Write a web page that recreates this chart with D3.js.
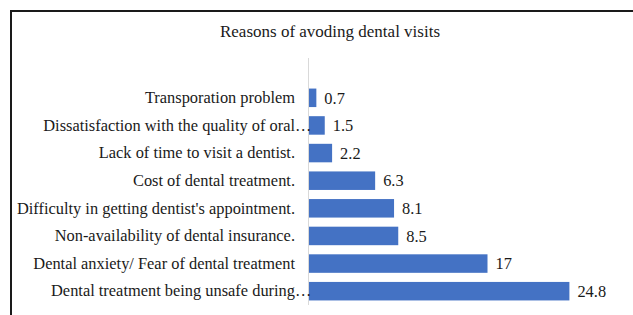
<!DOCTYPE html>
<html>
<head>
<meta charset="utf-8">
<script src="https://cdn.jsdelivr.net/npm/d3@7"></script>
<style>
  body { margin: 0; background: #fff; }
</style>
</head>
<body>
<script>
'use strict';

// categories, top to bottom
const reasons = [
  "Transporation problem",
  "Dissatisfaction with the quality of oral",
  "Lack of time to visit a dentist.",
  "Cost of dental treatment.",
  "Difficulty in getting dentist's appointment.",
  "Non-availability of dental insurance.",
  "Dental anxiety/ Fear of dental treatment",
  "Dental treatment being unsafe during"
];
// labels that Excel cut short with an ellipsis
const truncated = [
  "Dissatisfaction with the quality of oral",
  "Dental treatment being unsafe during"
];
const percents = [0.7, 1.5, 2.2, 6.3, 8.1, 8.5, 17, 24.8];
const titleText = "Reasons of avoding dental visits";

const width = 633, height = 315;
const serif = "'Liberation Serif', 'Times New Roman', Times, serif";
const titlePx = '17px';
const labelPx = '16.4px';

let svg = d3.select('body')
  .append('svg')
  .attr('width', width)
  .attr('height', height)
  .style('font-family', serif);

// chart frame (runs off right and bottom of the picture)
svg.append('rect')
  .attr('x', 11)
  .attr('y', 11)
  .attr('width', 700)
  .attr('height', 400)
  .attr('fill', 'none')
  .attr('stroke', '#1a1a1a')
  .attr('stroke-width', 2);

svg.append('text')
  .attr('x', 330)
  .attr('y', 37)
  .attr('text-anchor', 'middle')
  .style('font-family', serif)
  .style('font-size', titlePx)
  .attr('fill', '#1a1a1a')
  .text(titleText);

let xScale = d3.scaleLinear()
  .domain([0, 30])
  .range([309, 624]);

let yScale = d3.scaleBand()
  .domain(reasons)
  .range([84, 305])
  .paddingInner(0.33)
  .paddingOuter(0.165);

// bars
svg.selectAll('.bar')
  .data(reasons)
  .enter()
  .append('rect')
    .attr('class', 'bar')
    .attr('x', xScale(0))
    .attr('y', (d) => yScale(d))
    .attr('width', (d, i) => xScale(percents[i]) - xScale(0))
    .attr('height', yScale.bandwidth())
    .attr('fill', '#4472C4');

// category axis line
svg.append('line')
  .attr('x1', xScale(0) - 0.5)
  .attr('x2', xScale(0) - 0.5)
  .attr('y1', 58)
  .attr('y2', 305)
  .attr('stroke', '#d9d9d9')
  .attr('stroke-width', 1);

// category labels
let yAxis = d3.axisLeft(yScale).tickSize(0).tickPadding(14);
let axisG = svg.append('g')
  .attr('transform', `translate(${xScale(0)}, 0)`)
  .call(yAxis)
  .attr('font-family', serif);
axisG.select('.domain').remove();
axisG.selectAll('text')
  .style('font-family', serif)
  .style('font-size', labelPx)
  .attr('fill', '#1a1a1a');

// ellipsis after the cut-off labels
axisG.selectAll('.tick')
  .filter((d) => truncated.includes(d))
  .append('text')
    .attr('x', -14)
    .attr('dy', '0.32em')
    .attr('text-anchor', 'start')
    .style('font-family', serif)
    .style('font-size', labelPx)
    .attr('fill', '#1a1a1a')
    .text('\u2026');

// value labels
svg.selectAll('.val')
  .data(reasons)
  .enter()
  .append('text')
    .attr('class', 'val')
    .attr('x', (d, i) => xScale(percents[i]) + 8)
    .attr('y', (d) => yScale(d) + yScale.bandwidth() / 2)
    .attr('dy', '0.35em')
    .style('font-family', serif)
    .style('font-size', labelPx)
    .attr('fill', '#1a1a1a')
    .text((d, i) => percents[i]);
</script>
</body>
</html>
